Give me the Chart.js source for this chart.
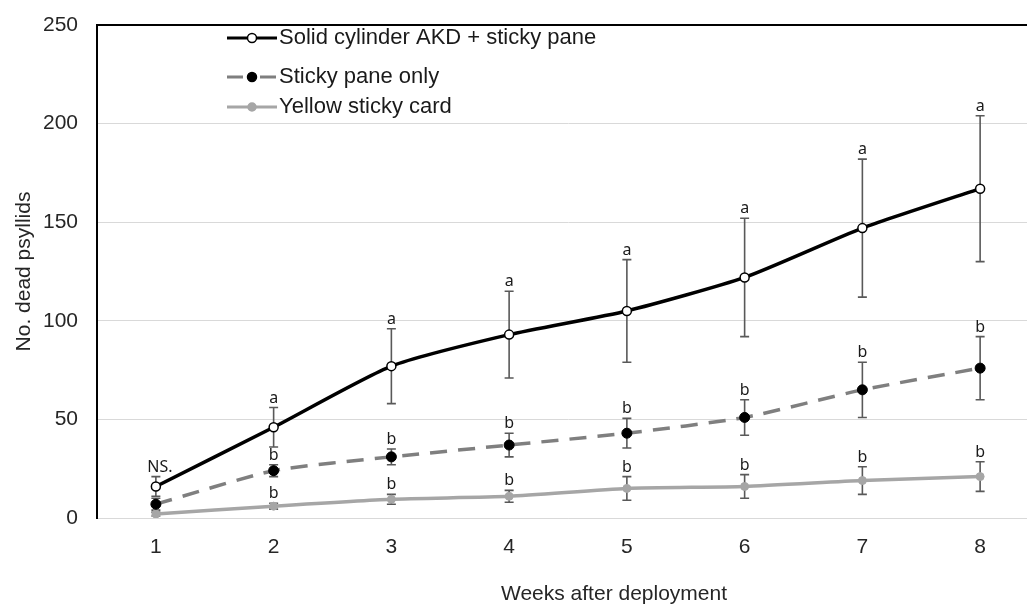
<!DOCTYPE html>
<html>
<head>
<meta charset="utf-8">
<title>Dead psyllids after deployment</title>
<script src="https://cdn.jsdelivr.net/npm/chart.js@4.4.1/dist/chart.umd.min.js"></script>
<style>
    html, body { margin: 0; padding: 0; background: #fff; overflow: hidden; }
    #frame { width: 1027px; height: 606px; overflow: hidden; }
</style>
</head>
<body>
<div id="frame"><canvas id="chart" width="1045" height="606"></canvas></div>
<script>
// Values (mean and error per week)
const weeks = ['1', '2', '3', '4', '5', '6', '7', '8'];
const yTicks = [0, 50, 100, 150, 200, 250];

const akdMean = [16, 46, 77, 93, 105, 122, 147, 167];
const akdErr = [5, 10, 19, 22, 26, 30, 35, 37];
const akdLetters = ['NS.', 'a', 'a', 'a', 'a', 'a', 'a', 'a'];

const paneMean = [7, 24, 31, 37, 43, 51, 65, 76];
const paneErr = [3, 3, 4, 6, 7.5, 9, 14, 16];
const paneLetters = ['', 'b', 'b', 'b', 'b', 'b', 'b', 'b'];

const cardMean = [2, 6, 9.5, 11, 15, 16, 19, 21];
const cardErr = [1, 1.5, 2.5, 3, 6, 6, 7, 7.5];
const cardLetters = ['', 'b', 'b', 'b', 'b', 'b', 'b', 'b'];

const seriesNames = ['Solid cylinder AKD + sticky pane', 'Sticky pane only', 'Yellow sticky card'];
const errors = [akdErr, paneErr, cardErr];
const letters = [akdLetters, paneLetters, cardLetters];

const FONT = "'Liberation Sans', Arial, sans-serif";
const TEXT = '#262626';

// error bars go under the lines and markers
const errorBarPlugin = {
    id: 'errorBars',
    beforeDatasetsDraw(chart) {
        const ctx = chart.ctx;
        const y = chart.scales.y;
        ctx.save();
        ctx.strokeStyle = '#595959';
        ctx.lineWidth = 1.6;
        chart.data.datasets.forEach((ds, i) => {
            const meta = chart.getDatasetMeta(i);
            meta.data.forEach((pt, j) => {
                const top = y.getPixelForValue(ds.data[j] + errors[i][j]);
                const bottom = y.getPixelForValue(ds.data[j] - errors[i][j]);
                ctx.beginPath();
                ctx.moveTo(pt.x, top);
                ctx.lineTo(pt.x, bottom);
                ctx.moveTo(pt.x - 4.5, top);
                ctx.lineTo(pt.x + 4.5, top);
                ctx.moveTo(pt.x - 4.5, bottom);
                ctx.lineTo(pt.x + 4.5, bottom);
                ctx.stroke();
            });
        });
        ctx.restore();
    }
};

// significance letters above each error bar
const letterPlugin = {
    id: 'letters',
    afterDatasetsDraw(chart) {
        const ctx = chart.ctx;
        const y = chart.scales.y;
        ctx.save();
        ctx.fillStyle = '#1a1a1a';
        ctx.textAlign = 'center';
        ctx.textBaseline = 'alphabetic';
        ctx.font = "16px 'Noto Sans', sans-serif";
        chart.data.datasets.forEach((ds, i) => {
            const meta = chart.getDatasetMeta(i);
            meta.data.forEach((pt, j) => {
                const txt = letters[i][j];
                if (!txt) return;
                const top = y.getPixelForValue(ds.data[j] + errors[i][j]);
                ctx.fillText(txt, pt.x + (txt === 'NS.' ? 4 : 0), top - 5);
            });
        });
        ctx.restore();
    }
};

// legend in the top-left of the plot plus the x axis title
const legendPlugin = {
    id: 'insideLegend',
    afterDraw(chart) {
        const ctx = chart.ctx;
        const rows = [38, 77, 107];
        const dashes = [[], [16, 17], []];
        const x0 = 227, x1 = 277, mx = 252;
        ctx.save();
        chart.data.datasets.forEach((ds, i) => {
            const ry = rows[i];
            ctx.strokeStyle = ds.borderColor;
            ctx.lineWidth = 3;
            ctx.setLineDash(dashes[i]);
            ctx.beginPath();
            ctx.moveTo(x0, ry);
            ctx.lineTo(x1, ry);
            ctx.stroke();
            ctx.setLineDash([]);
            ctx.beginPath();
            ctx.arc(mx, ry, i === 2 ? 4 : 4.5, 0, Math.PI * 2);
            ctx.fillStyle = ds.pointBackgroundColor;
            ctx.fill();
            ctx.lineWidth = 1.5;
            ctx.strokeStyle = ds.pointBorderColor;
            ctx.stroke();
            ctx.fillStyle = '#1a1a1a';
            ctx.font = '22px ' + FONT;
            ctx.textAlign = 'left';
            ctx.textBaseline = 'middle';
            ctx.fillText(seriesNames[i], 279, ry);
        });
        ctx.fillStyle = TEXT;
        ctx.font = '21px ' + FONT;
        ctx.textAlign = 'center';
        ctx.textBaseline = 'middle';
        ctx.fillText('Weeks after deployment', 614, 594);
        ctx.restore();
    }
};

new Chart(document.getElementById('chart'), {
    type: 'line',
    data: {
        labels: weeks,
        datasets: [{
            label: seriesNames[0],
            data: akdMean,
            borderColor: '#000000',
            borderWidth: 3.5,
            pointBackgroundColor: '#ffffff',
            pointBorderColor: '#000000',
            pointBorderWidth: 1.5,
            pointRadius: 4.5,
            tension: 0.2
        }, {
            label: seriesNames[1],
            data: paneMean,
            borderColor: '#7f7f7f',
            borderWidth: 3.5,
            borderDash: [17, 11],
            pointBackgroundColor: '#000000',
            pointBorderColor: '#000000',
            pointBorderWidth: 1,
            pointRadius: 5,
            tension: 0.2
        }, {
            label: seriesNames[2],
            data: cardMean,
            borderColor: '#a6a6a6',
            borderWidth: 3.5,
            pointBackgroundColor: '#a6a6a6',
            pointBorderColor: '#a6a6a6',
            pointBorderWidth: 1,
            pointRadius: 4,
            tension: 0.2
        }]
    },
    options: {
        responsive: false,
        animation: false,
        layout: { padding: { left: 0, right: 2, top: 25, bottom: 0 } },
        plugins: {
            legend: { display: false },
            tooltip: { enabled: false }
        },
        scales: {
            x: {
                offset: true,
                grid: { display: false },
                border: { display: true, color: '#d9d9d9', width: 1 },
                ticks: { color: TEXT, font: { family: FONT, size: 21 }, padding: 9, maxRotation: 0 },
                afterFit(scale) { scale.height = 88; }
            },
            y: {
                min: 0,
                max: 250,
                afterBuildTicks(scale) { scale.ticks = yTicks.map(v => ({ value: v })); },
                grid: {
                    drawTicks: false,
                    color: c => (c.tick && c.tick.value === 250 ? '#000000' : '#d9d9d9'),
                    lineWidth: c => (c.tick && c.tick.value === 250 ? 2 : 1)
                },
                border: { display: true, color: '#000000', width: 2 },
                ticks: { color: TEXT, font: { family: FONT, size: 21 }, padding: 19 },
                title: {
                    display: true,
                    text: 'No. dead psyllids',
                    color: TEXT,
                    font: { family: FONT, size: 21 },
                    padding: { top: 12, bottom: 0 }
                },
                afterFit(scale) {
                    scale.width = 97;
                    scale.paddingTop = 0;
                    scale.paddingBottom = 0;
                }
            }
        }
    },
    plugins: [errorBarPlugin, letterPlugin, legendPlugin]
});
</script>
</body>
</html>
